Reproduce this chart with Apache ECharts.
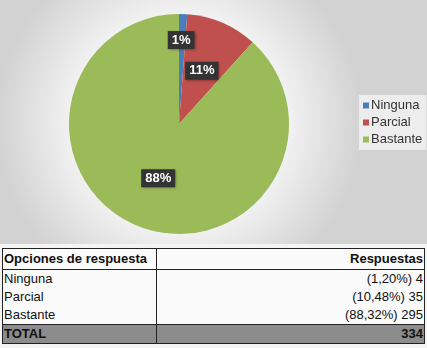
<!DOCTYPE html>
<html>
<head>
<meta charset="utf-8">
<script src="https://cdn.jsdelivr.net/npm/echarts@6/dist/echarts.min.js"></script>
<style>
  body { margin: 0; width: 427px; height: 348px; overflow: hidden; background: #f4f4f4; font-family: "Liberation Sans", Arial, sans-serif; }
  #chart { position: absolute; left: 0; top: 0; width: 427px; height: 244px; }
  #tabla { position: absolute; left: 2px; top: 248px; width: 423px; border-collapse: collapse; font-size: 13px; color: #111; background: #fafafa; border: 1.5px solid #222; }
  #tabla td { padding: 0 1px 0 1px; height: 18px; line-height: 16px; border-left: 1px solid #222; border-right: 1px solid #222; }
  #tabla tr.cab td { font-weight: bold; border-bottom: 1px solid #222; height: 20px; }
  #tabla tr.total td { font-weight: bold; background: #8c8c8c; border-top: 1px solid #222; }
  #tabla td.num { text-align: right; }
</style>
</head>
<body>
<div id="chart"></div>
<table id="tabla"></table>
<script>
// datos del gráfico
const categorias = ['Ninguna', 'Parcial', 'Bastante'];
const respuestas = [4, 35, 295];
const colores = ['#4a7ebb', '#c0504d', '#9bbb59'];
const encabezados = ['Opciones de respuesta', 'Respuestas'];

const total = respuestas.reduce((a, b) => a + b, 0);

// tabla de abajo
const tabla = document.getElementById('tabla');
let html = '<tr class="cab"><td style="width:151px">' + encabezados[0] + '</td><td class="num">' + encabezados[1] + '</td></tr>';
categorias.forEach((c, i) => {
    const pct = (respuestas[i] / total * 100).toFixed(2).replace('.', ',');
    html += '<tr><td>' + c + '</td><td class="num">(' + pct + '%) ' + respuestas[i] + '</td></tr>';
});
html += '<tr class="total"><td>TOTAL</td><td class="num">' + total + '</td></tr>';
tabla.innerHTML = html;

const myChart = echarts.init(document.getElementById('chart'));
const option = {
    backgroundColor: {
        type: 'radial', x: 0.42, y: 0.5, r: 0.75,
        colorStops: [{ offset: 0, color: '#ffffff' }, { offset: 0.6, color: '#f1f1f1' }, { offset: 1, color: '#d2d2d2' }]
    },
    animation: false,
    legend: {
        orient: 'vertical',
        left: 359,
        top: 95,
        itemWidth: 6,
        itemHeight: 6,
        itemGap: 4,
        icon: 'rect',
        padding: [4, 4, 4, 4],
        backgroundColor: 'rgba(255,255,255,0.6)',
        textStyle: { fontFamily: 'Liberation Sans', fontSize: 13, color: '#333', padding: [0, 0, 0, -3] },
        data: categorias
    },
    series: [{
        type: 'pie',
        center: [179, 124],
        radius: 110,
        startAngle: 90,
        clockwise: true,
        percentPrecision: 0,
        data: categorias.map((c, i) => ({ name: c, value: respuestas[i], itemStyle: { color: colores[i] } })),
        label: {
            show: true,
            position: 'inside',
            formatter: '{d}%',
            color: '#fff',
            fontWeight: 'bold',
            fontSize: 13,
            fontFamily: 'Liberation Sans',
            backgroundColor: '#333333',
            padding: [3, 4, 2, 4],
            shadowColor: 'rgba(0,0,0,0.4)',
            shadowBlur: 3,
            shadowOffsetX: 1,
            shadowOffsetY: 1
        },
        labelLayout: function (params) {
            if (params.dataIndex === 0) return { dy: -26 };
            return {};
        },
        emphasis: { disabled: true }
    }]
};
myChart.setOption(option);
</script>
</body>
</html>
